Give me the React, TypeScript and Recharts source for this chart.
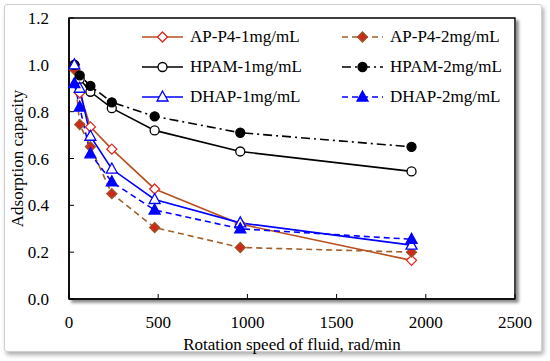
import { LineChart, Line, XAxis, YAxis, ReferenceArea } from 'recharts'

const SPEEDS = [30, 60, 120, 240, 480, 960, 1920]
const AP_P4_1 = [1.0, 0.88, 0.735, 0.64, 0.47, 0.32, 0.165]
const AP_P4_2 = [0.98, 0.745, 0.65, 0.45, 0.305, 0.22, 0.2]
const HPAM_1 = [1.0, 0.94, 0.885, 0.815, 0.72, 0.63, 0.545]
const HPAM_2 = [1.0, 0.955, 0.91, 0.84, 0.78, 0.71, 0.65]
const DHAP_1 = [1.0, 0.9, 0.695, 0.555, 0.425, 0.325, 0.23]
const DHAP_2 = [0.92, 0.82, 0.62, 0.5, 0.38, 0.3, 0.255]

const X_TICKS = [0, 500, 1000, 1500, 2000, 2500]
const Y_TICKS = [0, 0.2, 0.4, 0.6, 0.8, 1.0, 1.2]

const FONT = '"Liberation Serif", "Times New Roman", serif'

type Shape = 'diamond' | 'circle' | 'triangle'

const SERIES = [
  { key: 'ap1', name: 'AP-P4-1mg/mL', values: AP_P4_1, color: '#B8501F', dash: undefined, shape: 'diamond' as Shape, fill: '#fff', stroke: '#E3261E' },
  { key: 'ap2', name: 'AP-P4-2mg/mL', values: AP_P4_2, color: '#A0602A', dash: '6 4', shape: 'diamond' as Shape, fill: '#D0281E', stroke: '#9B5523' },
  { key: 'hp1', name: 'HPAM-1mg/mL', values: HPAM_1, color: '#000', dash: undefined, shape: 'circle' as Shape, fill: '#fff', stroke: '#000' },
  { key: 'hp2', name: 'HPAM-2mg/mL', values: HPAM_2, color: '#000', dash: '9 4 2 4', shape: 'circle' as Shape, fill: '#000', stroke: '#000' },
  { key: 'dh1', name: 'DHAP-1mg/mL', values: DHAP_1, color: '#0000FF', dash: undefined, shape: 'triangle' as Shape, fill: '#fff', stroke: '#0000FF' },
  { key: 'dh2', name: 'DHAP-2mg/mL', values: DHAP_2, color: '#0000FF', dash: '6 4', shape: 'triangle' as Shape, fill: '#0000FF', stroke: '#0000FF' },
]

const data = SPEEDS.map((s, i) => {
  const row: Record<string, number> = { speed: s }
  SERIES.forEach((ser) => { row[ser.key] = ser.values[i] })
  return row
})

function Marker({ cx, cy, shape, fill, stroke }: { cx: number; cy: number; shape: Shape; fill: string; stroke: string }) {
  if (cx == null || cy == null) return null
  if (shape === 'circle') {
    return <circle cx={cx} cy={cy} r={4.5} fill={fill} stroke={stroke} strokeWidth={1.3} />
  }
  if (shape === 'diamond') {
    const r = 5
    return <polygon points={`${cx},${cy - r} ${cx + r},${cy} ${cx},${cy + r} ${cx - r},${cy}`} fill={fill} stroke={stroke} strokeWidth={1.3} />
  }
  return <polygon points={`${cx},${cy - 6} ${cx + 5.5},${cy + 4} ${cx - 5.5},${cy + 4}`} fill={fill} stroke={stroke} strokeWidth={1.3} />
}

function LegendBox() {
  return (
    <div style={{ position: 'absolute', left: 140, top: 22, display: 'grid', gridTemplateColumns: '200px 200px', fontFamily: FONT, fontSize: 17, color: '#000' }}>
      {SERIES.map((s) => (
        <div key={s.key} style={{ display: 'flex', alignItems: 'center', height: 30 }}>
          <svg width={45} height={14}>
            <line x1={2} y1={7} x2={43} y2={7} stroke={s.color} strokeWidth={1.6} strokeDasharray={s.dash} />
            <Marker cx={22.5} cy={7} shape={s.shape} fill={s.fill} stroke={s.stroke} />
          </svg>
          <span style={{ marginLeft: 5 }}>{s.name}</span>
        </div>
      ))}
    </div>
  )
}

export default function App() {
  return (
    <div style={{ position: 'absolute', left: 0, top: 0, width: 550, height: 361, background: '#fff' }}>
      <div style={{ position: 'absolute', left: 4, top: 4, width: 536, height: 346, border: '1px solid #cfcfcf', borderRadius: 3, boxShadow: '2px 3px 4px #b0b0b0' }} />
      <div style={{ position: 'absolute', left: 0, top: 0 }}>
        <LineChart width={550} height={361} data={data} margin={{ top: 18, right: 35, bottom: 0, left: 0 }}>
          <defs>
            <filter id="plotShadow" x="-5%" y="-5%" width="110%" height="110%">
              <feDropShadow dx={3} dy={3} stdDeviation={1.5} floodColor="#8a8a8a" />
            </filter>
          </defs>
          <ReferenceArea x1={0} x2={2500} y1={0} y2={1.2} fill="#fff" fillOpacity={1} stroke="#000" strokeWidth={1.5} filter="url(#plotShadow)" ifOverflow="visible" />
          <XAxis
            dataKey="speed"
            type="number"
            domain={[0, 2500]}
            ticks={X_TICKS}
            height={62}
            tickSize={-5}
            tickMargin={22}
            axisLine={{ stroke: '#000', strokeWidth: 1.5 }}
            tickLine={{ stroke: '#000' }}
            tick={{ fontSize: 17, fill: '#000', fontFamily: FONT }}
            label={{ value: 'Rotation speed of fluid, rad/min', position: 'insideBottom', offset: 11, style: { fontSize: 17, fill: '#000', fontFamily: FONT } }}
          />
          <YAxis
            type="number"
            domain={[0, 1.2]}
            ticks={Y_TICKS}
            width={69}
            tickSize={-5}
            tickMargin={25}
            tickFormatter={(v: number) => v.toFixed(1)}
            axisLine={{ stroke: '#000', strokeWidth: 1.5 }}
            tickLine={{ stroke: '#000' }}
            tick={{ fontSize: 17, fill: '#000', fontFamily: FONT }}
            label={{ value: 'Adsorption capacity', angle: -90, position: 'insideLeft', offset: 17, style: { textAnchor: 'middle', fontSize: 17, fill: '#000', fontFamily: FONT } }}
          />
          {SERIES.map((s) => (
            <Line
              key={s.key}
              dataKey={s.key}
              name={s.name}
              stroke={s.color}
              strokeWidth={1.6}
              strokeDasharray={s.dash}
              isAnimationActive={false}
              dot={(p: any) => <Marker key={`${s.key}-${p.index}`} cx={p.cx} cy={p.cy} shape={s.shape} fill={s.fill} stroke={s.stroke} />}
            />
          ))}
        </LineChart>
      </div>
      <LegendBox />
    </div>
  )
}
